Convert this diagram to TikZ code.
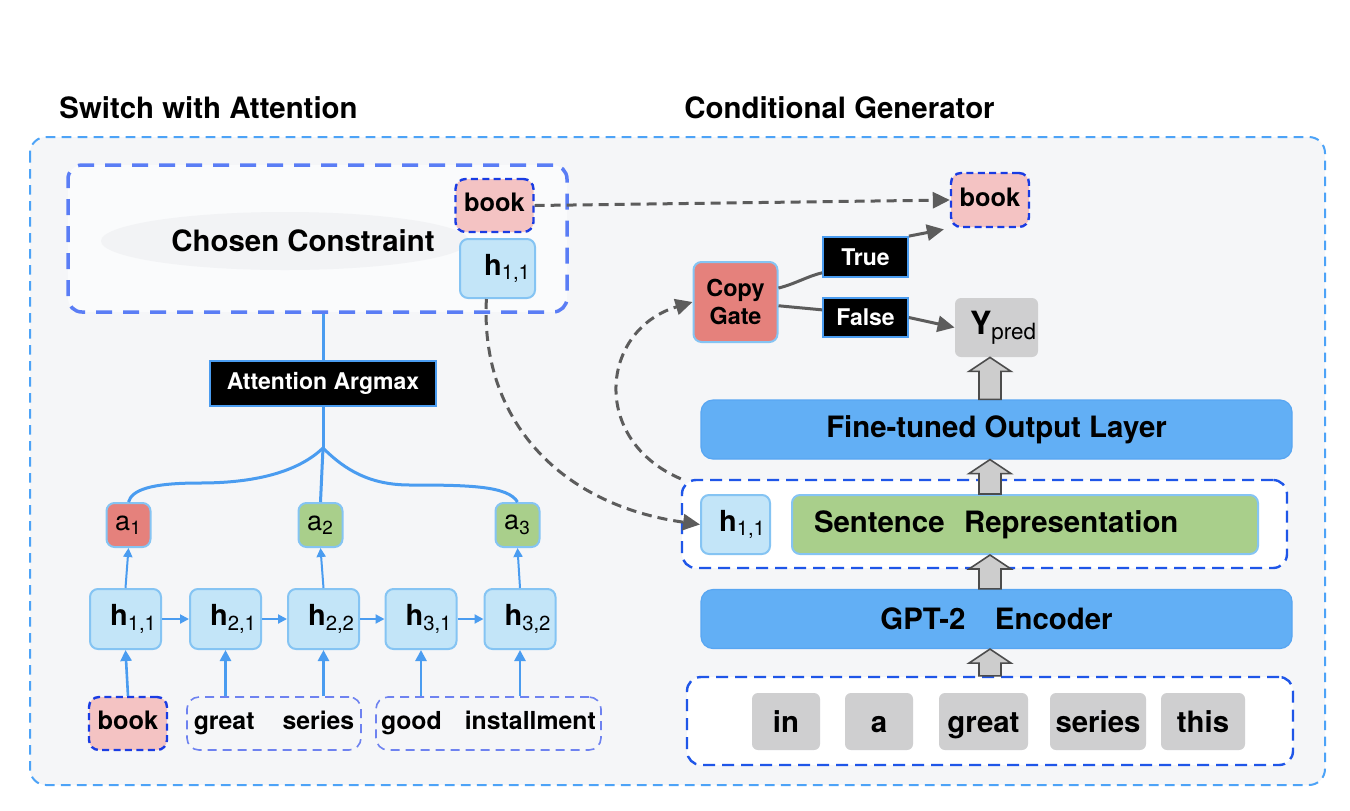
\documentclass[tikz,border=0pt]{standalone}
\usepackage{fontspec}
\setmainfont{TeX Gyre Heros}
\usetikzlibrary{arrows.meta,calc}

\definecolor{bgpanel}{HTML}{F5F6F8}
\definecolor{panelline}{HTML}{4DA3F7}
\definecolor{constrline}{HTML}{5A7DF5}
\definecolor{constrfill}{HTML}{FAFBFC}
\definecolor{hazefill}{HTML}{F2F3F5}
\definecolor{groupline}{HTML}{1F56E8}
\definecolor{wordline}{HTML}{6E82F0}
\definecolor{pinkfill}{HTML}{F4C3C3}
\definecolor{pinkline}{HTML}{1A3CE3}
\definecolor{hfill}{HTML}{C3E5F8}
\definecolor{hline}{HTML}{85C4F3}
\definecolor{redfill}{HTML}{E5817C}
\definecolor{greenfill}{HTML}{A9CF8B}
\definecolor{layerfill}{HTML}{62AFF5}
\definecolor{layerline}{HTML}{58A6F2}
\definecolor{tokenfill}{HTML}{CFCFD0}
\definecolor{linkblue}{HTML}{4A9CF0}
\definecolor{arrgray}{HTML}{5C5C5C}
\definecolor{blockfill}{HTML}{CDCDCD}

\newcommand{\hsub}[1]{\textsubscript{\mdseries #1}}
\newcommand{\blockup}[2]{%
  \draw[blockarr] ($(#1 -| wgroup)+(-11,0)$) -- ($(#2 -| wgroup)+(-11,14)$)
    -- ($(#2 -| wgroup)+(-21,14)$) -- (#2 -| wgroup) -- ($(#2 -| wgroup)+(21,14)$)
    -- ($(#2 -| wgroup)+(11,14)$) -- ($(#1 -| wgroup)+(11,0)$) -- cycle;}

\begin{document}
\begin{tikzpicture}[x=0.5pt, y=-0.5pt,
    every node/.style={inner sep=0pt, font=\bfseries\fontsize{14.7}{17}\selectfont},
    panel/.style={draw=panelline, fill=bgpanel, line width=1pt, dash pattern=on 4.8pt off 3.2pt, rounded corners=8pt},
    constrbox/.style={draw=constrline, fill=constrfill, line width=1.75pt, dash pattern=on 8pt off 5.5pt, rounded corners=7pt},
    box/.style={rounded corners=4pt, draw=hline, line width=1pt},
    hbox/.style={box, fill=hfill, text width=31.5pt, inner xsep=2pt, align=right, minimum height=30pt,
      font=\bfseries\fontsize{14.5}{16}\selectfont},
    abox/.style={box, minimum width=22pt, minimum height=22pt, font=\fontsize{13.5}{15}\selectfont},
    pinkbox/.style={rounded corners=5pt, draw=pinkline, line width=1.2pt, dash pattern=on 3.5pt off 2.2pt,
      fill=pinkfill, minimum width=39pt, minimum height=26.5pt, text height=9pt, text depth=2.6pt,
      font=\bfseries\fontsize{12.7}{15}\selectfont},
    wordgroup/.style={rounded corners=6pt, draw=wordline, line width=0.8pt, dash pattern=on 4.5pt off 3pt,
      minimum height=26.5pt, text height=9pt, text depth=2.6pt, font=\bfseries\fontsize{12.4}{15}\selectfont},
    blackbox/.style={fill=black, draw=linkblue, line width=0.9pt, text=white, font=\bfseries\fontsize{11.5}{14}\selectfont},
    layer/.style={rounded corners=6pt, fill=layerfill, draw=layerline, line width=0.6pt, minimum width=295.5pt, minimum height=29.5pt},
    token/.style={rounded corners=3pt, fill=tokenfill, minimum height=28.5pt, text height=10.6pt, text depth=0pt},
    group/.style={rounded corners=7pt, draw=groupline, line width=1.2pt, dash pattern=on 6pt off 3.5pt, fill=white, minimum height=44pt},
    link/.style={draw=linkblue, line width=1.5pt},
    linkarr/.style={draw=linkblue, line width=1pt, -{Triangle[length=4.5pt,width=4.5pt]}},
    feedarr/.style={draw=linkblue, line width=1.3pt, -{Triangle[length=5.5pt,width=5.5pt]}},
    flow/.style={draw=arrgray, line width=1.5pt},
    flowarr/.style={flow, -{Triangle[length=8.5pt,width=8pt]}},
    copyflow/.style={flowarr, dash pattern=on 5pt off 3pt},
    blockarr/.style={draw=black!70, fill=blockfill, line width=0.8pt, line join=miter}]

    \useasboundingbox (0,0) rectangle (1350,810);

    \node[anchor=west] (lefttitle) at (59,108) {Switch with Attention};
    \node[anchor=west] (righttitle) at (684,108) {Conditional Generator};

    \draw[panel] (30,137) rectangle (1325,785);

    % switch with attention
    \node[constrbox, minimum width=249.5pt, minimum height=73.5pt] (constr) at (317.5,238.5) {};
    \fill[hazefill] (285,241) ellipse [x radius=184, y radius=29];
    \node (chosen) at (303,241) {Chosen Constraint};
    \node[pinkbox] (cbook) at (494.5,205.5) {book};
    \node[hbox, text width=33.5pt, inner xsep=2pt, minimum height=29.5pt] (ch) at (497.5,268.5) {h\hsub{1,1}};

    \node[blackbox, minimum width=113pt, minimum height=22.5pt] (argmax) at (323,383.5) {Attention Argmax};
    \coordinate (fork) at (323,448);

    \node[abox, fill=redfill] (a1) at (128.5,525) {a\hsub{1}};
    \node[abox, fill=greenfill] (a2) at (320.5,525) {a\hsub{2}};
    \node[abox, fill=greenfill] (a3) at (517.5,525) {a\hsub{3}};

    \node[hbox] (h11) at (125.5,619) {h\hsub{1,1}};
    \node[hbox] (h21) at (225.5,619) {h\hsub{2,1}};
    \node[hbox] (h22) at (323.5,619) {h\hsub{2,2}};
    \node[hbox] (h31) at (421,619) {h\hsub{3,1}};
    \node[hbox] (h32) at (520,619) {h\hsub{3,2}};

    \node[pinkbox] (wbook) at (128,723.5) {book};
    \node[wordgroup, minimum width=87pt] (wgs) at (274,723.5) {great\hspace{14pt}series};
    \node[wordgroup, minimum width=112.5pt] (wgi) at (488.5,723.5) {good\hspace{11.5pt}installment};

    \draw[link] (argmax.north |- constr.south) -- (argmax.north);
    \draw[link] (argmax.south) -- (fork);
    \draw[link] (fork) -- (a2.north);
    \draw[link] (fork) .. controls (300,470) and (260,483) .. (200,483) .. controls (150,483) and (132,490) .. (a1.north);
    \draw[link] (fork) .. controls (345,470) and (370,485) .. (410,485) .. controls (470,485) and (508,486) .. (a3.north);

    \draw[linkarr] (h11.north) -- (a1.south);
    \draw[linkarr] (h22.north) -- (a2.south);
    \draw[linkarr] (h32.north) -- (a3.south);
    \foreach \a/\b in {h11/h21, h21/h22, h22/h31, h31/h32}
        \draw[linkarr] (\a.east) -- (\b.west);

    \draw[feedarr] (wbook.north) -- (h11.south);
    \draw[feedarr] (h21 |- wgs.north) -- (h21.south);
    \draw[feedarr] (h22 |- wgs.north) -- (h22.south);
    \draw[feedarr] (h31 |- wgi.north) -- (h31.south);
    \draw[feedarr] (h32 |- wgi.north) -- (h32.south);

    % conditional generator
    \node[pinkbox, minimum height=27pt] (gbook) at (990,200) {book};
    \node[box, fill=redfill, minimum width=42pt, minimum height=40pt, align=center,
        font=\bfseries\fontsize{11.7}{14}\selectfont] (gate) at (735.5,302) {Copy\\Gate};
    \node[blackbox, minimum width=42.5pt, minimum height=20pt] (true) at (865.5,257) {True};
    \node[blackbox, minimum width=42.5pt, minimum height=19.5pt] (false) at (865.5,317.5) {False};
    \node[token, text width=40.5pt, inner xsep=0.5pt, align=right, minimum height=29.5pt, text height=11pt, text depth=4pt,
        font=\bfseries\fontsize{16}{18}\selectfont] (ypred) at (996.5,327.5) {Y\hsub{pred}};

    \node[layer] (outlayer) at (996.5,429.5) {Fine-tuned Output Layer};
    \node[group, minimum width=302.5pt] (sgroup) at (984.5,524) {};
    \node[hbox, text width=30.5pt, minimum height=29.5pt] (sh) at (735.5,524.5) {h\hsub{1,1}};
    \node[box, fill=greenfill, text width=211pt, inner xsep=11pt, align=left, minimum height=29.5pt] (srep)
        at (1025,524.5) {Sentence\ \ Representation};
    \node[layer] (gpt) at (996.5,619) {GPT-2\quad Encoder};

    \node[group, minimum width=303pt] (wgroup) at (990,721) {};
    \node[token, minimum width=34pt] (tin) at (786,721.5) {in};
    \node[token, minimum width=34pt] (ta) at (879,721.5) {a};
    \node[token, minimum width=44.5pt] (tgreat) at (983.5,721.5) {great};
    \node[token, minimum width=48pt] (tseries) at (1098,721.5) {series};
    \node[token, minimum width=42pt] (tthis) at (1203,721.5) {this};

    \draw[copyflow] (cbook.east) -- (gbook.west);
    \draw[flow] (gate.18) .. controls (795,284) and (808,276) .. (true.200);
    \draw[flowarr, shorten >=3pt] (true.north east) -- (gbook.south west);
    \draw[flow] (gate.-5) -- (false.170);
    \draw[flowarr] (false.east) -- (ypred.west);

    \draw[copyflow] (ch.250) .. controls (480,420) and (560,505) .. (sh.west);
    \draw[copyflow] (sgroup.north west) .. controls (590,440) and (600,330) .. (gate.west);

    \blockup{outlayer.north}{ypred.south}
    \blockup{srep.north}{outlayer.south}
    \blockup{gpt.north}{srep.south}
    \blockup{wgroup.north}{gpt.south}
\end{tikzpicture}
\end{document}
